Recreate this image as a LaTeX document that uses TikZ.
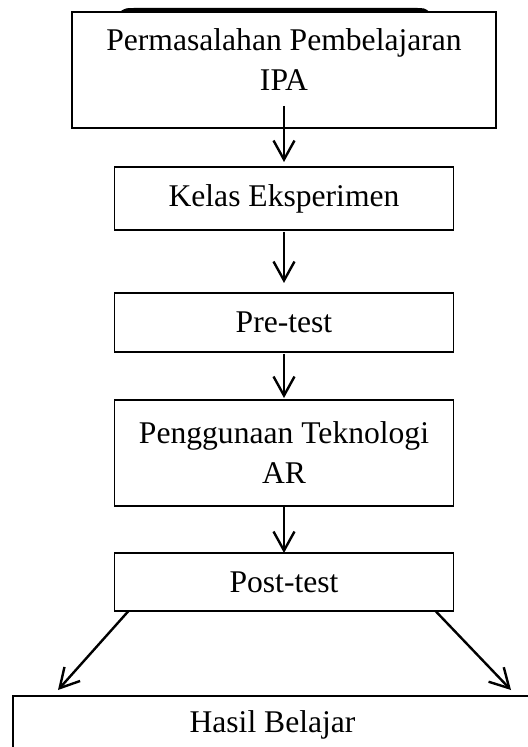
\documentclass[tikz,border=0pt]{standalone}
\usepackage{fontspec}
\setmainfont{Liberation Serif}
\usetikzlibrary{positioning, arrows.meta}

\begin{document}
\begin{tikzpicture}[x = 0.5pt, y = -0.5pt,
	> = {Straight Barb[length = 9.5pt, width = 10.5pt]},
	box/.style = {draw, line width = 0.9pt, align = center, inner sep = 0pt, outer sep = 0pt,
		font = \fontsize{15.8pt}{20pt}\selectfont},
	flow/.style = {->, line width = 1.2pt}]

	% Definitions

	\def\W{169.5pt}		% Width of the inner boxes

	% Frame

	\useasboundingbox (0, 0) rectangle (527, 747);

	% Edge of the box above

	\fill (119, 12.5) .. controls (125, 8) .. (138, 8) -- (414, 8) .. controls (425, 8) .. (430, 12.5) -- cycle;

	% Boxes

	\node [box, minimum width = 212pt, minimum height = 58pt, text depth = 10pt] (masalah) at (284, 70) {Permasalahan Pembelajaran\\IPA};
	\node [box, minimum width = \W, minimum height = 31.5pt, below = 19.5pt of masalah] (kelas) {Kelas Eksperimen};
	\node [box, minimum width = \W, minimum height = 29.5pt, below = 31.5pt of kelas] (pretest) {Pre-test};
	\node [box, minimum width = \W, minimum height = 53pt, below = 24pt of pretest] (teknologi) {Penggunaan Teknologi\\AR};
	\node [box, minimum width = \W, minimum height = 29pt, below = 23.5pt of teknologi] (posttest) {Post-test};
	\node [box, minimum width = 259.5pt, minimum height = 29pt, below = 42.5pt of posttest, xshift = -5.75pt] (hasil) {Hasil Belajar};

	% Arrows down the chain

	\draw [flow, shorten <= -11pt, shorten >= 2.5pt] (masalah) -- (kelas);
	\draw [flow, shorten <= 1pt, shorten >= 5pt] (kelas) -- (pretest);
	\draw [flow, shorten <= 1pt, shorten >= 1pt] (pretest) -- (teknologi);
	\draw [flow] (teknologi) -- (posttest);

	% Arrows to the result

	\draw [flow] ([xshift = 7pt] posttest.south west) -- ([xshift = 22.5pt, yshift = 3pt] hasil.north west);
	\draw [flow] ([xshift = -9pt] posttest.south east) -- ([xshift = -10.5pt, yshift = 3pt] hasil.north east);

\end{tikzpicture}
\end{document}
